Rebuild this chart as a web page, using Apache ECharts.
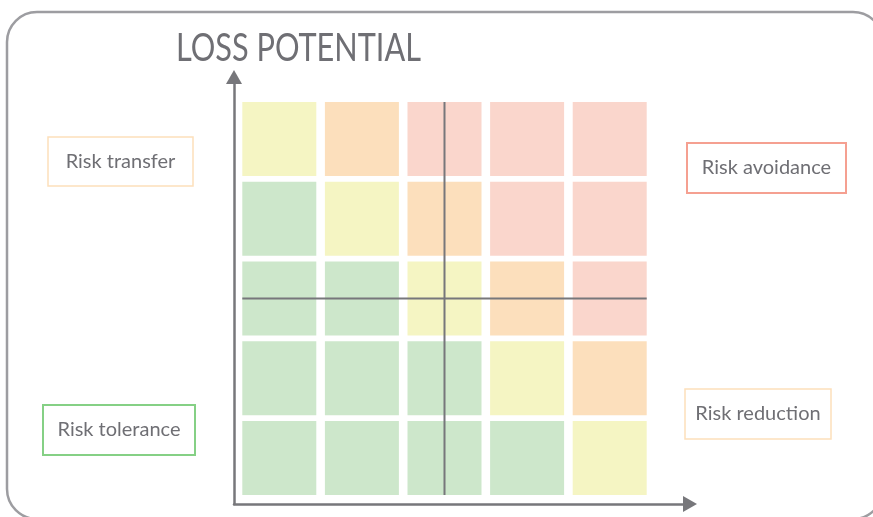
<!DOCTYPE html>
<html><head><meta charset="utf-8">
<script src="https://cdn.jsdelivr.net/npm/echarts@6/dist/echarts.min.js"></script>
<style>html,body{margin:0;padding:0;background:#fff}#c{width:873px;height:517px}</style>
</head><body><div id="c"></div>
<script>
// ---- data ----
const impactCategories = ['1', '2', '3', '4', '5'];
const likelihoodCategories = ['1', '2', '3', '4', '5'];
// risk level per cell, rows from bottom to top (1 green, 2 yellow, 3 orange, 4 red)
const riskRow1 = [1, 1, 1, 1, 2];
const riskRow2 = [1, 1, 1, 2, 3];
const riskRow3 = [1, 1, 2, 3, 4];
const riskRow4 = [1, 2, 3, 4, 4];
const riskRow5 = [2, 3, 4, 4, 4];
const crosshairCell = [2, 2];
const titleText = 'LOSS POTENTIAL';
const strategyLabels = ['Risk transfer', 'Risk avoidance', 'Risk tolerance', 'Risk reduction'];

// ---- styling ----
const levelColors = {1: '#cde7cb', 2: '#f5f5c3', 3: '#fcdfbc', 4: '#fad6cc'};
const gapX = 8.6, gapY = 5.8;
const textColor = '#6f6f74';
const axisColor = '#77777b';

const riskRows = [riskRow1, riskRow2, riskRow3, riskRow4, riskRow5];
const cellData = [];
riskRows.forEach((row, y) => row.forEach((lvl, x) => cellData.push([x, y, lvl])));

function measure(text, font) {
  const ctx = document.createElement('canvas').getContext('2d');
  ctx.font = font;
  return ctx.measureText(text).width;
}
const titleFont = 'Lato';
const titleSize = 39;
const titleScale = 245 / measure(titleText, titleSize + 'px ' + titleFont);

function labelBox(text, x, y, w, h, stroke, lw) {
  return {
    type: 'group', x: x, y: y,
    children: [
      {type: 'rect', shape: {x: 0, y: 0, width: w, height: h}, style: {fill: '#fff', stroke: stroke, lineWidth: lw}},
      {type: 'text', x: w / 2, y: h / 2, style: {text: text, fontFamily: 'Lato', fontSize: 20, fill: textColor, align: 'center', verticalAlign: 'middle'}}
    ]
  };
}

const chart = echarts.init(document.getElementById('c'), null, {renderer: 'canvas'});
chart.setOption({
  animation: false,
  backgroundColor: '#fff',
  grid: [
    {left: 238, right: 222, top: 99, bottom: 19},
    {left: 234, right: 183, top: 77, bottom: 13}
  ],
  xAxis: [
    {type: 'category', gridIndex: 0, data: impactCategories, show: false},
    {type: 'value', gridIndex: 1, min: 0, max: 1,
     axisLine: {show: true, symbol: ['none', 'triangle'], symbolSize: [16, 14], lineStyle: {color: axisColor, width: 2.5}},
     axisTick: {show: false}, axisLabel: {show: false}, splitLine: {show: false}}
  ],
  yAxis: [
    {type: 'category', gridIndex: 0, data: likelihoodCategories, show: false},
    {type: 'value', gridIndex: 1, min: 0, max: 1,
     axisLine: {show: true, symbol: ['none', 'triangle'], symbolSize: [16, 14], lineStyle: {color: axisColor, width: 2.5}},
     axisTick: {show: false}, axisLabel: {show: false}, splitLine: {show: false}}
  ],
  series: [
    {
      type: 'custom', xAxisIndex: 0, yAxisIndex: 0, data: cellData, z: 2,
      renderItem: function (params, api) {
        const c = api.coord([api.value(0), api.value(1)]);
        const s = api.size([1, 1]);
        return {
          type: 'rect',
          shape: {x: c[0] - s[0] / 2 + gapX / 2, y: c[1] - s[1] / 2 + gapY / 2, width: s[0] - gapX, height: s[1] - gapY},
          style: {fill: levelColors[api.value(2)]}
        };
      }
    },
    {
      type: 'custom', xAxisIndex: 0, yAxisIndex: 0, data: [crosshairCell], z: 3,
      renderItem: function (params, api) {
        const c = api.coord([api.value(0), api.value(1)]);
        const cs = params.coordSys;
        return {
          type: 'group',
          children: [
            {type: 'line', shape: {x1: c[0], y1: cs.y + gapY / 2, x2: c[0], y2: cs.y + cs.height - gapY / 2}, style: {stroke: axisColor, lineWidth: 2}},
            {type: 'line', shape: {x1: cs.x + gapX / 2, y1: c[1], x2: cs.x + cs.width - gapX / 2, y2: c[1]}, style: {stroke: axisColor, lineWidth: 2}}
          ]
        };
      }
    }
  ],
  graphic: [
    {type: 'rect', shape: {x: 7, y: 12, width: 876, height: 507, r: 30}, style: {fill: 'none', stroke: '#9d9da1', lineWidth: 2.5}, z: 0},
    {type: 'text', x: 176, y: 48, scaleX: titleScale, style: {text: titleText, fontFamily: titleFont, fontSize: titleSize, fill: textColor, align: 'left', verticalAlign: 'middle'}},
    labelBox(strategyLabels[0], 48, 137, 145, 49, '#fde0bb', 1.5),
    labelBox(strategyLabels[1], 687, 143, 159, 50, '#f5a091', 2),
    labelBox(strategyLabels[2], 43, 405, 152, 50, '#85d085', 2),
    labelBox(strategyLabels[3], 685, 389, 146, 50, '#fde0bb', 1.5)
  ]
});
</script>
</body></html>
